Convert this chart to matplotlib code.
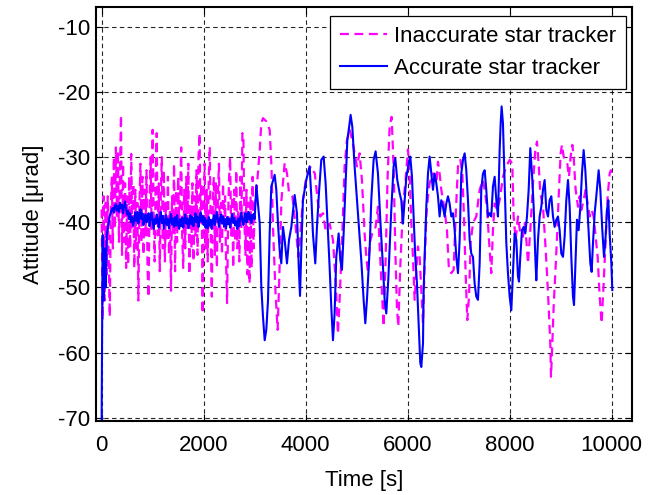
import numpy as np
import matplotlib
matplotlib.use("Agg")
import matplotlib.pyplot as plt

plt.rcParams['font.family'] = ['Liberation Sans', 'DejaVu Sans']
plt.rcParams['axes.unicode_minus'] = False

# ---- data ----
# dense start (0..3000 s, every 20 s)
t_dense = np.arange(0, 3001, 20)

inacc_dense = [
    -38, -55, -36, -52, -37, -48, -36, -46, -54.5, -38,
    -33, -44, -30, -41, -28.5, -39, -29, -43, -32, -23.5,
    -45, -31, -43, -34, -47, -36, -46.5, -33, -44, -29.5,
    -41, -34, -47, -35, -44, -37, -52, -38, -31, -43,
    -33, -45, -35, -42, -32, -47, -51.5, -37, -30, -41,
    -25.8, -39, -46, -33, -26.3, -42, -34, -47.5, -36, -30,
    -44, -32, -46, -37, -43, -33, -45, -38, -50.5, -36,
    -42, -31, -47.5, -35, -43, -33, -40, -36, -28.5, -42,
    -47, -35, -44, -33, -41, -31, -48, -37, -44, -34,
    -46, -36, -42, -32, -45, -30, -26.3, -40, -34, -54,
    -38, -31, -44, -35, -46, -33, -28.4, -42, -51.4, -37,
    -33, -45, -34, -47, -36, -31, -43, -37, -45, -34,
    -41, -36, -46, -52.4, -39, -33, -30, -42, -36, -47,
    -35, -43, -32, -44, -38, -46, -33, -41, -26.3, -27,
    -40, -45, -35, -48, -37, -49.4, -36, -47, -33, -44,
    -38,
]

acc_dense = [
    -70.5, -42, -52, -44, -50, -42, -41, -40, -39, -38.5,
    -38, -37.8, -38.5, -37.5, -37.2, -38.2, -37.5, -38.4, -37, -37.8,
    -37.3, -38.6, -37.4, -36.8, -38, -38.8, -38.2, -39.5, -38.6, -40,
    -39.2, -40.5, -39.6, -38.5, -39.8, -38.4, -40.2, -39, -38, -39.5,
    -38.6, -40.4, -39.7, -38.8, -40, -39.2, -38.6, -40.6, -39.4, -38.5,
    -39.8, -41, -39.5, -40.2, -38.8, -39.6, -40.8, -39.3, -38.4, -40.1,
    -39, -41, -39.8, -38.9, -40.4, -39.5, -40.9, -39.6, -38.7, -40.3,
    -39.4, -40.7, -39.2, -40.5, -38.9, -40.3, -41, -39.5, -40.6, -39.3,
    -40.8, -39.6, -38.8, -40.2, -39.4, -40.9, -39.7, -38.9, -40.3, -39.2,
    -40.6, -39.5, -38.6, -40, -39.1, -40.7, -39.4, -38.5, -39.9, -39,
    -40.4, -39.3, -40.8, -39.7, -40.9, -39.2, -40.5, -39.6, -41, -39.8,
    -38.9, -40.4, -39.3, -38.4, -39.6, -40.7, -39.4, -38.8, -40.2, -39.1,
    -40.6, -39.5, -40.9, -39.2, -40.3, -39.4, -40.8, -39.6, -38.7, -40.1,
    -39.3, -40.5, -39.8, -41, -39.4, -40.6, -39.2, -38.5, -39.7, -40.4,
    -39.3, -38.6, -40, -39.1, -38.4, -39.6, -38.8, -40.1, -39.2, -38.7,
    -39.5,
]

# slower part (after 3000 s)
t_inacc_late = [
    3033, 3100, 3130, 3164, 3230, 3295, 3330, 3360, 3410, 3451,
    3480, 3525, 3589, 3635, 3675, 3739, 3805, 3857, 3882, 3947,
    4013, 4100, 4180, 4241, 4287, 4340, 4392, 4470, 4536, 4588,
    4634, 4666, 4719, 4764, 4810, 4862, 4915, 4960, 5006, 5058,
    5104, 5156, 5189, 5222, 5255, 5307, 5372, 5418, 5451, 5503,
    5529, 5568, 5607, 5647, 5686, 5725, 5758, 5790, 5817, 5856,
    5908, 5960, 6006, 6039, 6072, 6104, 6137, 6170, 6202, 6235,
    6268, 6301, 6333, 6366, 6399, 6431, 6497, 6562, 6595, 6627,
    6660, 6725, 6771, 6810, 6856, 6902, 6941, 6987, 7033, 7072,
    7105, 7137, 7170, 7203, 7235, 7281, 7346, 7412, 7477, 7510,
    7555, 7595, 7640, 7673, 7706, 7751, 7804, 7869, 7935, 8000,
    8052, 8078, 8118, 8164, 8209, 8262, 8294, 8327, 8360, 8405,
    8458, 8503, 8536, 8569, 8601, 8654, 8699, 8732, 8765, 8797,
    8811, 8837, 8863, 8902, 8935, 8967, 9000, 9026, 9059, 9092,
    9131, 9163, 9196, 9229, 9255, 9294, 9340, 9373, 9405, 9451,
    9490, 9529, 9569, 9608, 9647, 9686, 9726, 9765, 9804, 9843,
    9882, 9922, 9961, 9987, 10000,
]
inacc_late = [
    -35.5, -28.9, -24.8, -24, -24.5, -25.8, -31.4, -40.7, -50.9, -56.5,
    -49.4, -36.6, -30.9, -32.5, -35.5, -36, -40.7, -45.3, -43.2, -36.6,
    -33, -31.4, -32.5, -37, -39.1, -38.6, -41.2, -40.2, -42.7, -48.9,
    -57.1, -51.9, -41.7, -31.4, -27.4, -25.8, -27.4, -29.4, -31.4, -29.4,
    -33.5, -41.7, -45.3, -47.8, -43.2, -41.7, -40.7, -37.6, -43.7, -51.9,
    -56, -45.8, -33, -25.3, -23.8, -31.4, -44.2, -53, -56, -46.8,
    -37.6, -33.5, -28.8, -32.5, -40.1, -45.3, -51.9, -47.3, -43.7, -45.3,
    -50.4, -55.5, -46.3, -39.1, -36, -34, -32.5, -34, -30.7, -32.5,
    -35, -38.1, -41.2, -47.3, -47.8, -47.3, -39.1, -31.4, -30.4, -32.5,
    -39.1, -47.8, -55, -51.4, -43.2, -40.1, -39.1, -35, -33.5, -35,
    -37.6, -42.7, -47.8, -41.2, -37.1, -38.1, -36.6, -33, -31.4, -30.4,
    -31, -39.1, -42.7, -39.1, -41.7, -42.2, -40.1, -42.7, -46.3, -41.2,
    -34, -28.9, -27.6, -31, -35.5, -37.6, -43.2, -47.8, -52.9, -58.6,
    -63.7, -58.6, -52.9, -46.8, -41.2, -35, -29.4, -28.1, -29.9, -30.4,
    -31, -33, -29.9, -28.1, -29.9, -35, -37.6, -36, -38.1, -36.6,
    -35, -37.1, -39.1, -38.1, -39.1, -42.2, -45.3, -51.4, -55.5, -49.4,
    -42.7, -36, -32.5, -32, -33,
]

t_acc_late = [
    3033, 3099, 3131, 3164, 3197, 3229, 3262, 3295, 3327, 3393,
    3425, 3458, 3490, 3523, 3556, 3589, 3634, 3674, 3720, 3785,
    3830, 3865, 3890, 3915, 3947, 4013, 4078, 4111, 4143, 4189,
    4222, 4261, 4307, 4353, 4392, 4438, 4470, 4503, 4536, 4568,
    4601, 4647, 4680, 4712, 4745, 4784, 4817, 4862, 4882, 4915,
    4960, 5026, 5091, 5137, 5170, 5202, 5255, 5287, 5333, 5372,
    5418, 5464, 5516, 5549, 5581, 5620, 5679, 5725, 5758, 5797,
    5843, 5876, 5908, 5941, 5973, 6026, 6052, 6085, 6117, 6150,
    6183, 6216, 6248, 6268, 6301, 6314, 6333, 6366, 6399, 6431,
    6464, 6497, 6529, 6562, 6595, 6627, 6660, 6693, 6725, 6758,
    6791, 6823, 6856, 6889, 6922, 6954, 6987, 7020, 7052, 7085,
    7118, 7150, 7183, 7216, 7248, 7281, 7314, 7346, 7379, 7412,
    7444, 7477, 7510, 7542, 7575, 7608, 7640, 7673, 7706, 7739,
    7771, 7804, 7824, 7843, 7869, 7902, 7935, 7967, 8000, 8033,
    8065, 8098, 8131, 8163, 8183, 8209, 8242, 8275, 8307, 8340,
    8373, 8405, 8438, 8471, 8503, 8523, 8556, 8588, 8621, 8654,
    8686, 8719, 8752, 8784, 8817, 8850, 8882, 8915, 8948, 8980,
    9013, 9046, 9078, 9111, 9144, 9177, 9209, 9242, 9262, 9294,
    9320, 9353, 9386, 9418, 9451, 9484, 9516, 9549, 9582, 9608,
    9634, 9667, 9699, 9745, 9778, 9817, 9850, 9882, 9908, 9935,
    9961, 9994, 10013,
]
acc_late = [
    -34.3, -40.1, -49.9, -54.5, -58.1, -56.5, -52, -41.7, -34.5, -32.7,
    -35, -40.2, -44.2, -46.3, -40.7, -42.7, -46.3, -42.7, -40.7, -35.8,
    -38.6, -46.8, -51.3, -44.2, -36.6, -33.5, -31.4, -36, -41.7, -46.3,
    -40.7, -35.5, -30.4, -29.9, -34, -41.7, -46.8, -53, -58.1, -54,
    -45.3, -41.7, -45.8, -47.3, -41.7, -34, -27.4, -24.8, -23.5, -25.3,
    -31.4, -38.6, -45.8, -51.9, -55.5, -51.9, -44.2, -36.6, -30.4, -29.1,
    -32.5, -39.6, -46.8, -51.9, -54, -48.9, -38.1, -31.4, -30.2, -33.5,
    -35.5, -36.6, -40.2, -36.6, -33.2, -30.7, -29.9, -33, -39.1, -45.3,
    -49.4, -55.5, -61.6, -62.2, -58.6, -50.4, -45.3, -37.6, -32.5, -29.9,
    -32.5, -35, -32.5, -34, -36, -39.1, -36.6, -37.6, -39.1, -37.1,
    -36, -37.1, -39.1, -38.6, -41.2, -45.3, -47.8, -42.7, -32.5, -30.4,
    -29.4, -32, -36.6, -42.7, -44.8, -45.3, -49.4, -51.4, -51.9, -46.3,
    -35, -32.5, -32, -35, -39.1, -38.6, -39.1, -34.5, -33, -36.6,
    -39.1, -28.9, -24.8, -22.2, -24.8, -34, -43.2, -47.8, -51.4, -53.5,
    -47.8, -41.7, -42.7, -48.3, -49.1, -45.3, -41.2, -40.7, -41.7, -39.1,
    -35, -28.6, -32.5, -37.6, -45.3, -48.9, -42.7, -39.1, -37.6, -35,
    -33.5, -38.1, -39.1, -36.6, -36, -39.1, -40.7, -39.6, -39.1, -41.2,
    -44.8, -45.3, -42.2, -36.6, -33.5, -37.6, -45.3, -51.4, -52.7, -45.3,
    -39.6, -41.2, -37.6, -32.5, -28.9, -32, -36.6, -41.2, -46.3, -47.6,
    -43.2, -38.6, -36, -32, -35, -41.2, -45.3, -42.2, -38.1, -36.6,
    -41.7, -46.3, -50.4,
]

t_inacc = np.concatenate([t_dense, t_inacc_late])
y_inacc = np.concatenate([inacc_dense, inacc_late])
t_acc = np.concatenate([t_dense, t_acc_late])
y_acc = np.concatenate([acc_dense, acc_late])

xticks = [0, 2000, 4000, 6000, 8000, 10000]
yticks = [-70, -60, -50, -40, -30, -20, -10]

fs = 16

fig = plt.figure(figsize=(6.59, 4.95), dpi=100)
ax = fig.add_axes([0.1457, 0.1495, 0.8134, 0.8355])

ax.plot(t_inacc, y_inacc, color='#ff00ff', ls=(0, (4, 2.5)), lw=1.6,
        label='Inaccurate star tracker')
ax.plot(t_acc, y_acc, color='#0000ff', lw=1.5, label='Accurate star tracker')

ax.set_xlim(-110, 10400)
ax.set_ylim(-70.5, -7)
ax.set_xticks(xticks)
ax.set_yticks(yticks)
ax.grid(True, color='black', ls=(0, (4, 3)), lw=0.8, alpha=0.85)
ax.set_axisbelow(True)

ax.tick_params(direction='in', top=True, right=True, length=5, width=0.8,
               labelsize=fs)
ax.tick_params(axis='x', pad=10)
ax.tick_params(axis='y', pad=4)
for sp in ax.spines.values():
    sp.set_linewidth(1.5)

ax.set_xlabel('Time [s]', fontsize=fs, labelpad=10)
ax.set_ylabel('Attitude [\u03bcrad]', fontsize=fs, labelpad=10)

leg = ax.legend(loc='upper right', bbox_to_anchor=(0.989, 0.979),
                fontsize=fs, fancybox=False, framealpha=1, edgecolor='black',
                handlelength=2.15, handletextpad=0.3, borderpad=0.45,
                labelspacing=0.5, borderaxespad=0)
leg.get_frame().set_linewidth(0.9)

fig.savefig('out.png', dpi=100)
